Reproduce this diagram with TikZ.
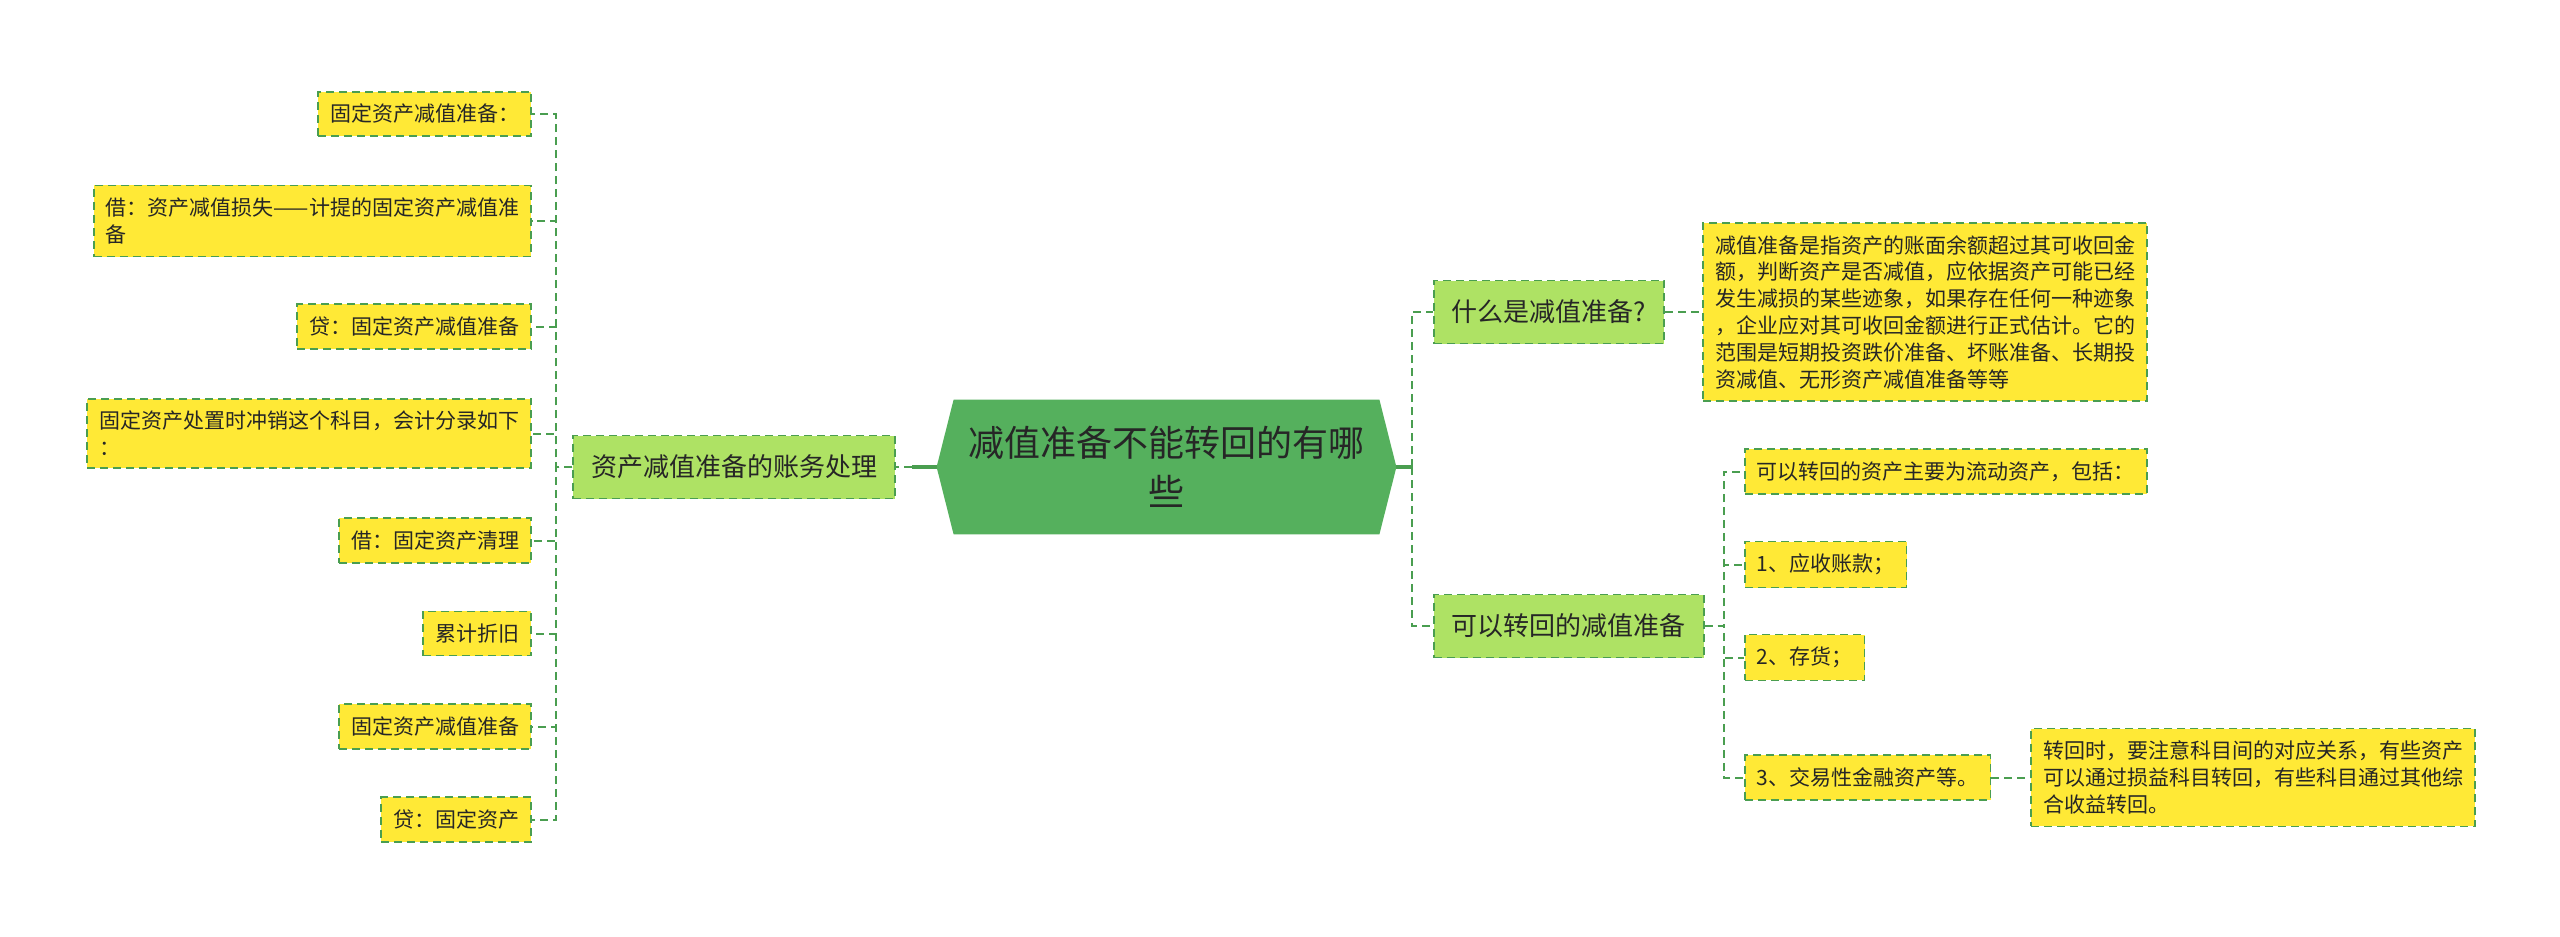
\documentclass[tikz,border=0pt]{standalone}
\usepackage{fontspec}
\newfontfamily\cjk{Noto Sans CJK SC}
\usepackage{xcolor}
\usepackage{tikz}
\usetikzlibrary{positioning, calc, backgrounds}
\definecolor{leafyellow}{HTML}{FFE936}
\definecolor{linegreen}{HTML}{4A9E50}
\definecolor{subgreen}{HTML}{AEE264}
\definecolor{rootgreen}{HTML}{55B05D}
\definecolor{inkgray}{HTML}{262626}
\tikzset{
  leaf/.style={rectangle, draw=linegreen, fill=leafyellow, line width=0.9pt,
               dash pattern=on 4pt off 2.5pt, inner xsep=6pt, inner ysep=6.2pt,
               align=left, text=inkgray, font=\cjk\fontsize{10.5}{13.4}\selectfont},
  sub/.style={rectangle, draw=linegreen, fill=subgreen, line width=0.9pt,
              dash pattern=on 4pt off 2.5pt, inner xsep=9pt, minimum height=31.5pt,
              text=inkgray, font=\cjk\fontsize{13}{16}\selectfont},
  topic/.style={rectangle, minimum width=229.5pt, minimum height=67pt, align=center,
                text=inkgray, font=\cjk\fontsize{18}{24.5}\selectfont},
  link/.style={draw=linegreen, line width=1pt, dash pattern=on 4pt off 2.5pt},
  stem/.style={draw=linegreen, line width=1.6pt}
}

\begin{document}
\begin{tikzpicture}[x=0.5pt, y=-0.5pt]
  \useasboundingbox (0,0) rectangle (2560,937);
  % centre
  \node[topic] (root) at (1166.5,467) {减值准备不能转回的有哪\\些};
  \begin{scope}[on background layer]
    \fill[rootgreen] (root.west) -- ([xshift=8.5pt]root.north west)
      -- ([xshift=-8.5pt]root.north east) -- (root.east)
      -- ([xshift=-8.5pt]root.south east) -- ([xshift=8.5pt]root.south west) -- cycle;
  \end{scope}
  % left branch
  \node[sub, anchor=east] (acct) at (896,467) {资产减值准备的账务处理};
  \node[leaf, anchor=east] (l1) at (532,114) {固定资产减值准备：};
  \node[leaf, anchor=east] (l2) at (532,221) {借：资产减值损失——计提的固定资产减值准\\备};
  \node[leaf, anchor=east] (l3) at (532,326.5) {贷：固定资产减值准备};
  \node[leaf, anchor=east] (l4) at (532,433.5) {固定资产处置时冲销这个科目，会计分录如下\\：};
  \node[leaf, anchor=east] (l5) at (532,540.5) {借：固定资产清理};
  \node[leaf, anchor=east] (l6) at (532,633.5) {累计折旧};
  \node[leaf, anchor=east] (l7) at (532,726.5) {固定资产减值准备};
  \node[leaf, anchor=east] (l8) at (532,819.5) {贷：固定资产};
  % right branch
  \node[sub, anchor=west] (what) at (1433,312) {什么是减值准备?};
  \node[leaf, right=18.5pt of what] (note1) {减值准备是指资产的账面余额超过其可收回金\\额，判断资产是否减值，应依据资产可能已经\\发生减损的某些迹象，如果存在任何一种迹象\\，企业应对其可收回金额进行正式估计。它的\\范围是短期投资跌价准备、坏账准备、长期投\\资减值、无形资产减值准备等等};
  \node[sub, anchor=west] (back) at (1433,626) {可以转回的减值准备};
  \node[leaf, anchor=west] (r1) at (1744,471.5) {可以转回的资产主要为流动资产，包括：};
  \node[leaf, anchor=west] (r2) at (1744,564.5) {1、应收账款；};
  \node[leaf, anchor=west] (r3) at (1744,657.5) {2、存货；};
  \node[leaf, anchor=west] (r4) at (1744,777.5) {3、交易性金融资产等。};
  \node[leaf, right=19.5pt of r4] (note2) {转回时，要注意科目间的对应关系，有些资产\\可以通过损益科目转回，有些科目通过其他综\\合收益转回。};
  % connectors
  \coordinate (lm) at ($(root.west)+(-25,0)$);
  \coordinate (rj) at ($(root.east)+(16,0)$);
  \coordinate (lj) at ($(acct.west)+(-16,0)$);
  \coordinate (bj) at ($(back.east)+(19,0)$);
  \draw[stem] (root.west) -- (lm);
  \draw[link] (lm) -- (acct.east);
  \draw[stem] (root.east) -- (rj);
  \foreach \c in {what, back} \draw[link] (rj) |- (\c.west);
  \foreach \c in {l1, l2, l3, l4, l5, l6, l7, l8} \draw[link] (acct.west) -- (lj) |- (\c.east);
  \foreach \c in {r1, r2, r3, r4} \draw[link] (back.east) -- (bj) |- (\c.west);
  \draw[link] (what) -- (note1);
  \draw[link] (r4) -- (note2);
\end{tikzpicture}
\end{document}
